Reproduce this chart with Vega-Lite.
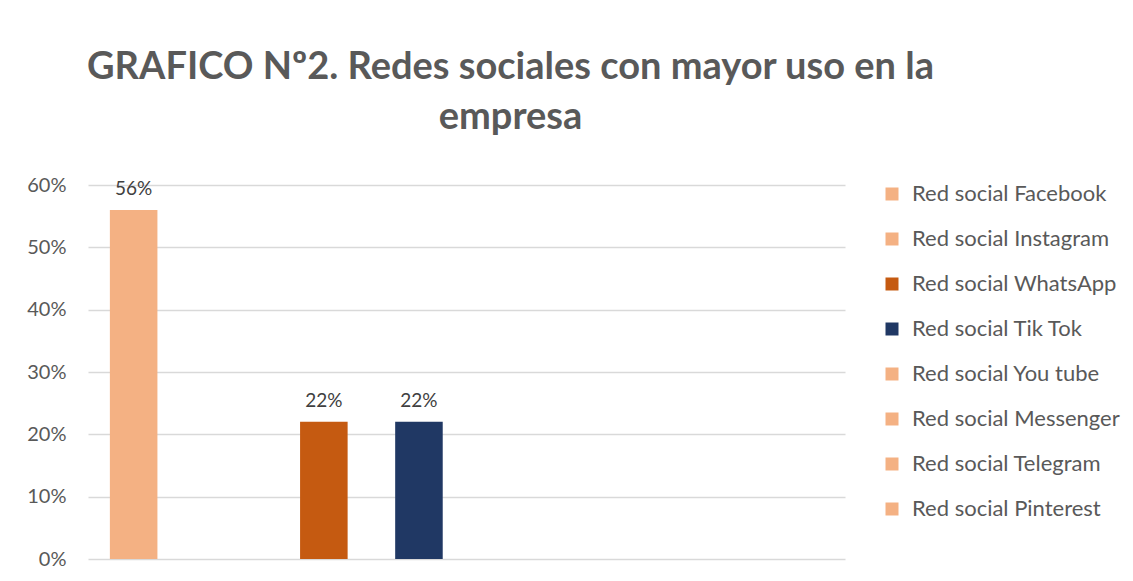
{
  "$schema": "https://vega.github.io/schema/vega-lite/v6.json",
  "width": 757,
  "height": 374,
  "autosize": {"type": "none"},
  "padding": {"left": 88, "top": 185, "right": 288, "bottom": 22},
  "background": "white",
  "config": {
    "view": {"stroke": null},
    "font": "Lato"
  },
  "title": {
    "text": ["GRAFICO Nº2. Redes sociales con mayor uso en la", "empresa"],
    "font": "Lato",
    "fontSize": 38,
    "fontWeight": "bold",
    "color": "#595959",
    "anchor": "middle",
    "dx": 44,
    "offset": 38,
    "lineHeight": 50,
    "limit": 1100
  },
  "data": {
    "values": [
      {"red": "Red social Facebook", "value": 0.56},
      {"red": "Red social Instagram", "value": 0},
      {"red": "Red social WhatsApp", "value": 0.22},
      {"red": "Red social Tik Tok", "value": 0.22},
      {"red": "Red social You tube", "value": 0},
      {"red": "Red social Messenger", "value": 0},
      {"red": "Red social Telegram", "value": 0},
      {"red": "Red social Pinterest", "value": 0}
    ]
  },
  "encoding": {
    "x": {
      "field": "red",
      "type": "nominal",
      "sort": null,
      "scale": {"paddingInner": 0.5, "paddingOuter": 0.23},
      "axis": null
    },
    "y": {
      "field": "value",
      "type": "quantitative",
      "scale": {"domain": [0, 0.6], "nice": false},
      "axis": {
        "values": [0, 0.1, 0.2, 0.3, 0.4, 0.5, 0.6],
        "format": ".0%",
        "title": null,
        "domain": false,
        "ticks": false,
        "labelFontSize": 20,
        "labelColor": "#595959",
        "labelPadding": 22,
        "gridColor": "#d9d9d9",
        "gridWidth": 1.3
      }
    }
  },
  "layer": [
    {
      "mark": {"type": "bar"},
      "encoding": {
        "color": {
          "field": "red",
          "type": "nominal",
          "sort": null,
          "scale": {
            "domain": ["Red social Facebook", "Red social Instagram", "Red social WhatsApp", "Red social Tik Tok", "Red social You tube", "Red social Messenger", "Red social Telegram", "Red social Pinterest"],
            "range": ["#F4B183", "#F4B183", "#C55A11", "#203864", "#F4B183", "#F4B183", "#F4B183", "#F4B183"]
          },
          "legend": {
            "orient": "none",
            "legendX": 793,
            "legendY": -2,
            "title": null,
            "symbolType": "square",
            "symbolSize": 169,
            "symbolStrokeWidth": 0,
            "labelFontSize": 22,
            "labelColor": "#595959",
            "labelOffset": 9,
            "rowPadding": 23,
            "labelLimit": 300
          }
        }
      }
    },
    {
      "transform": [{"filter": "datum.value > 0"}],
      "mark": {"type": "text", "baseline": "bottom", "dy": -11, "fontSize": 19, "color": "#404040"},
      "encoding": {
        "text": {"field": "value", "type": "quantitative", "format": ".0%"}
      }
    }
  ]
}
